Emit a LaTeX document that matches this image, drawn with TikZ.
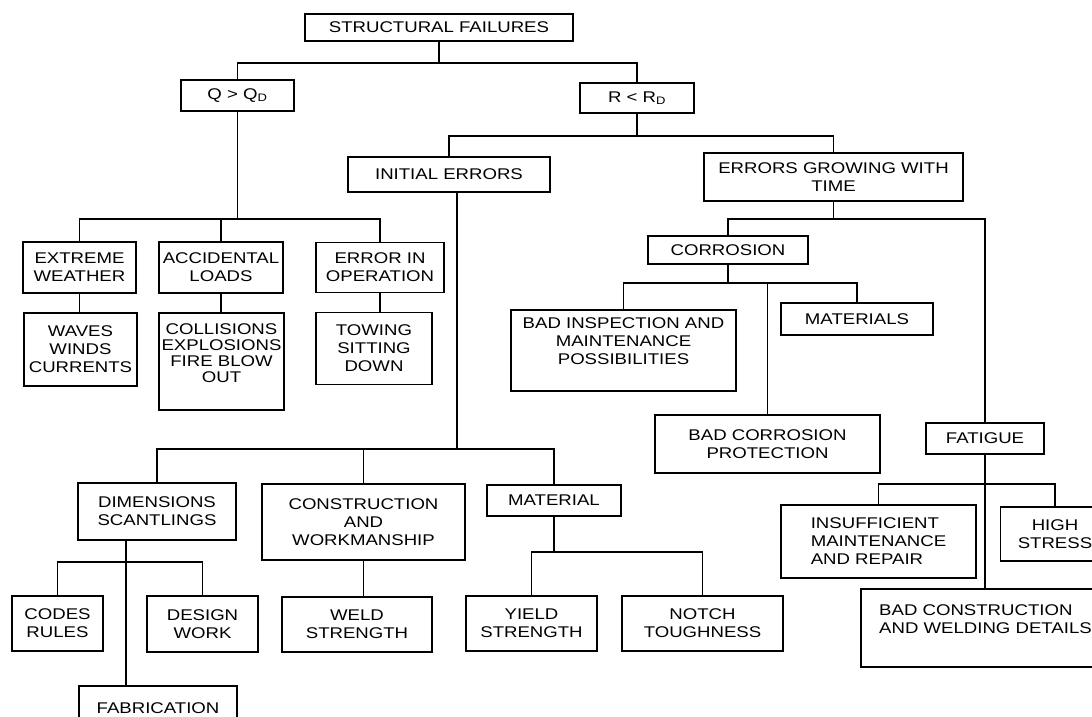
\documentclass[tikz,border=0pt]{standalone}
\usepackage{fontspec}
\setmainfont{Liberation Sans}[FakeStretch=1.2]
\usepackage{tikz}
\tikzstyle{cause} = [rectangle, draw=black, line width=1.8pt, align=center, inner sep=2pt]
\tikzstyle{link} = [line width=1.8pt]

\begin{document}
\begin{tikzpicture}[node distance=60pt, font=\fontsize{15.5}{18}\selectfont]
\useasboundingbox (-439pt,27.5pt) rectangle (653pt,-688.5pt);
\clip (-439pt,27.5pt) rectangle (653pt,-688.5pt);
\node (root) [cause, minimum width=268pt, minimum height=27pt] {STRUCTURAL FAILURES};
\node (qbox) [cause, below of=root, xshift=-201.5pt, yshift=-8pt, minimum width=113pt, minimum height=31pt] {Q > Q\textsubscript{D}};
\node (rbox) [cause, below of=root, xshift=198pt, yshift=-10.5pt, minimum width=114pt, minimum height=30pt] {R < R\textsubscript{D}};
% loads above the design level
\node (extreme) [cause, below of=qbox, xshift=-158pt, yshift=-112pt, minimum width=113pt, minimum height=51pt] {EXTREME\\WEATHER};
\node (accid) [cause, right of=extreme, xshift=81.5pt, minimum width=124pt, minimum height=51pt] {ACCIDENTAL\\LOADS};
\node (erroper) [cause, right of=accid, xshift=99pt, minimum width=128pt, minimum height=50pt] {ERROR IN\\OPERATION};
\node (waves) [cause, below of=extreme, xshift=1pt, yshift=-22pt, minimum width=113pt, minimum height=73pt] {WAVES\\WINDS\\CURRENTS};
\node (collis) [cause, below of=accid, xshift=0.5pt, yshift=-34pt, minimum width=125pt, minimum height=97pt, font=\fontsize{15.5}{16}\selectfont] {COLLISIONS\\EXPLOSIONS\\FIRE BLOW\\OUT\\~};
\node (towing) [cause, below of=erroper, xshift=-6pt, yshift=-21pt, minimum width=116pt, minimum height=72pt] {TOWING\\SITTING\\DOWN};
% resistance below the design level
\node (initial) [cause, below of=rbox, xshift=-188pt, yshift=-16.5pt, minimum width=202pt, minimum height=35pt] {INITIAL ERRORS};
\node (growing) [cause, below of=rbox, xshift=196.5pt, yshift=-19pt, minimum width=259pt, minimum height=48pt] {ERRORS GROWING WITH\\TIME};
\node (corrosion) [cause, below of=growing, xshift=-105.5pt, yshift=-13pt, minimum width=160pt, minimum height=28pt] {CORROSION};
\node (inspect) [cause, below of=corrosion, xshift=-104.5pt, yshift=-40.5pt, minimum width=225pt, minimum height=81pt] {BAD INSPECTION AND\\MAINTENANCE\\POSSIBILITIES\\~};
\node (materials) [cause, below of=corrosion, xshift=129pt, yshift=-9pt, minimum width=152pt, minimum height=32pt] {MATERIALS};
\node (corrprot) [cause, below of=corrosion, xshift=39.5pt, yshift=-134pt, minimum width=225pt, minimum height=58pt] {BAD CORROSION\\PROTECTION};
\node (fatigue) [cause, below of=growing, xshift=151.5pt, yshift=-201.5pt, minimum width=118pt, minimum height=31pt] {FATIGUE};
\node (insuff) [cause, align=left, below of=fatigue, xshift=-106.5pt, yshift=-43pt, minimum width=195pt, minimum height=73pt] {INSUFFICIENT\\MAINTENANCE\\AND REPAIR};
\node (highstress) [cause, below of=fatigue, xshift=70pt, yshift=-35.5pt, minimum width=109pt, minimum height=54pt] {HIGH\\STRESS};
\node (badconst) [cause, align=left, below of=fatigue, xshift=0.5pt, yshift=-129.5pt, minimum width=249pt, minimum height=78pt] {BAD CONSTRUCTION\\AND WELDING DETAILS\\~};
\node (dims) [cause, below of=initial, xshift=-292pt, yshift=-277pt, minimum width=158pt, minimum height=57pt] {DIMENSIONS\\SCANTLINGS};
\node (construct) [cause, below of=initial, xshift=-85.5pt, yshift=-287.5pt, minimum width=203pt, minimum height=76pt] {CONSTRUCTION\\AND\\WORKMANSHIP};
\node (material) [cause, below of=initial, xshift=105pt, yshift=-266pt, minimum width=134pt, minimum height=31pt] {MATERIAL};
\node (codes) [cause, below of=dims, xshift=-99.5pt, yshift=-52pt, minimum width=91pt, minimum height=55pt] {CODES\\RULES};
\node (design) [cause, below of=dims, xshift=45.5pt, yshift=-52.5pt, minimum width=111pt, minimum height=56pt] {DESIGN\\WORK};
\node (fabric) [cause, below of=dims, xshift=1pt, yshift=-137pt, minimum width=158pt, minimum height=45pt] {FABRICATION};
\node (weld) [cause, below of=construct, xshift=-6.5pt, yshift=-42.5pt, minimum width=150pt, minimum height=55pt] {WELD\\STRENGTH};
\node (yield) [cause, below of=material, xshift=-22.5pt, yshift=-63pt, minimum width=131pt, minimum height=55pt] {YIELD\\STRENGTH};
\node (notch) [cause, below of=material, xshift=148.5pt, yshift=-63pt, minimum width=161pt, minimum height=55pt] {NOTCH\\TOUGHNESS};
% connectors
\draw [link] (root.south) -- ++(0,-21pt) -| (qbox.north);
\draw [link] (root.south) -- ++(0,-21pt) -| (rbox.north);
\draw [link] (qbox.south) -- ++(0,-107pt) -| (extreme.north);
\draw [link] (qbox.south) -- ++(0,-107pt) -| (accid.north);
\draw [link] (qbox.south) -- ++(0,-107pt) -| (erroper.north);
\draw [link] (extreme.south) -- (extreme.south |- waves.north);
\draw [link] (accid.south) -- (accid.south |- collis.north);
\draw [link] (erroper.south) -- (erroper.south |- towing.north);
\draw [link] (rbox.south) -- ++(0,-22pt) -| (initial.north);
\draw [link] (rbox.south) -- ++(0,-22pt) -| (growing.north);
\draw [link] ([xshift=8pt]initial.south) -- ++(0,-256pt) -| (dims.north);
\draw [link] ([xshift=8pt]initial.south) -- ++(0,-256pt) -| (construct.north);
\draw [link] ([xshift=8pt]initial.south) -- ++(0,-256pt) -| (material.north);
\draw [link] ([xshift=-31pt]dims.south) -- ++(0,-21pt) -| (codes.north);
\draw [link] ([xshift=-31pt]dims.south) -- ++(0,-21pt) -| (design.north);
\draw [link] ([xshift=-31pt]dims.south) -- ([xshift=-32pt]fabric.north);
\draw [link] (construct.south) -- (construct.south |- weld.north);
\draw [link] (material.south) -- ++(0,-35pt) -| (yield.north);
\draw [link] (material.south) -- ++(0,-35pt) -| (notch.north);
\draw [link] (growing.south) -- ++(0,-17pt) -| (corrosion.north);
\draw [link] (growing.south) -- ++(0,-17pt) -| (fatigue.north);
\draw [link] (corrosion.south) -- ++(0,-18pt) -| (inspect.north);
\draw [link] (corrosion.south) -- ++(0,-18pt) -| (materials.north);
\draw [link] (corrosion.south) -- ++(0,-18pt) -| (corrprot.north);
\draw [link] (fatigue.south) -- ++(0,-29pt) -| (insuff.north);
\draw [link] (fatigue.south) -- ++(0,-29pt) -| (highstress.north);
\draw [link] (fatigue.south) -- (fatigue.south |- badconst.north);
\end{tikzpicture}
\end{document}
